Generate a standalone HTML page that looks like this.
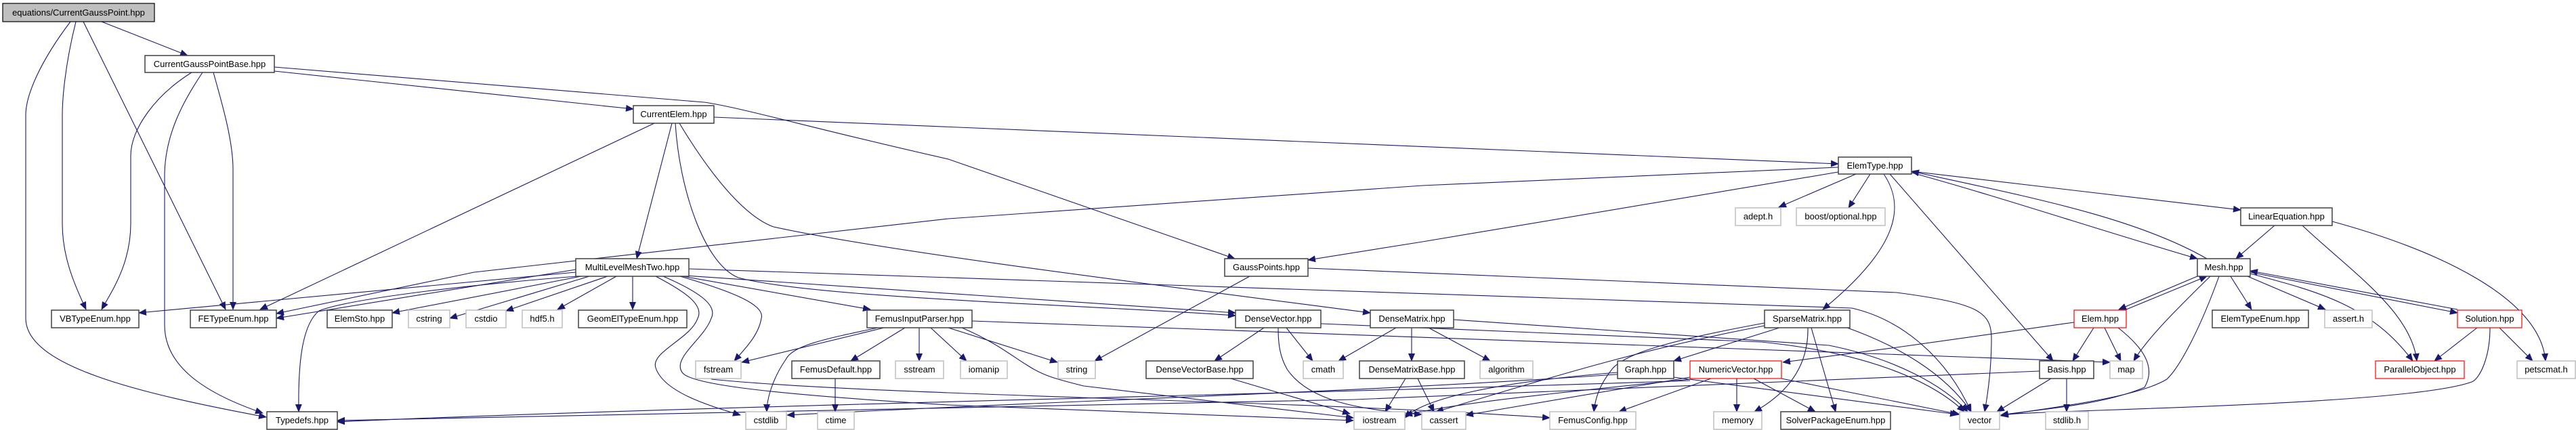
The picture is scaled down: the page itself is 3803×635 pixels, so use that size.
<!DOCTYPE html>
<html><head><meta charset="utf-8"><style>
html,body{margin:0;padding:0;background:#fff}
svg{display:block}
text{font-family:"Liberation Sans",Arial,sans-serif;font-size:13px;fill:#000}
.n{fill:#fff;stroke:#404040;stroke-width:1.5}
.g{fill:#fff;stroke:#bfbfbf;stroke-width:1.5}
.r{fill:#fff;stroke:#ff0000;stroke-width:1.2}
.e{fill:none;stroke:#191970;stroke-width:1.1}
</style></head><body>
<svg width="3803" height="635" viewBox="0 0 3803 635" xmlns="http://www.w3.org/2000/svg">
<defs><marker id="a" markerWidth="12" markerHeight="10" refX="11" refY="5" orient="auto" markerUnits="userSpaceOnUse"><path d="M0,0 L12,5 L0,10 Z" fill="#191970"/></marker></defs>
<g class="e" marker-end="url(#a)">
<path d="M104,32 C60,90 38,140 38,170 L38,470 C38,540 200,580 393,616"/>
<path d="M112,32 C95,100 92,150 92,170 L92,330 C92,380 110,420 127,457"/>
<path d="M123,32 L333,457"/>
<path d="M150,32 L277,82"/>
<path d="M283,107 C230,140 193,190 193,230 L193,330 C193,390 165,430 150,457"/>
<path d="M299,107 C270,150 243,200 243,260 L243,480 C243,540 300,580 388,610"/>
<path d="M315,107 C330,160 344,210 344,250 L344,457"/>
<path d="M405,105 L935,161"/>
<path d="M405,99 L1040,151 C1100,160 1200,190 1400,235 L1823,382"/>
<path d="M1054,173 L2714,242"/>
<path d="M992,182 L940,382"/>
<path d="M966,182 L384,457"/>
<path d="M997,182 C1003,280 1040,390 1090,410 C1200,440 1600,450 1824,466"/>
<path d="M1003,182 C1050,260 1100,320 1142,335 C1300,370 1700,420 2023,462"/>
<path d="M2714,247 L2100,274 L1400,323 L700,402 L408,463"/>
<path d="M2714,254 L2100,357 L1931,384"/>
<path d="M2740,257 L2626,306"/>
<path d="M2761,257 L2729,307"/>
<path d="M2781,257 C2810,300 2810,360 2691,457"/>
<path d="M2790,257 L3031,533"/>
<path d="M2822,253 L3308,310"/>
<path d="M2822,255 C2950,290 3100,340 3244,382"/>
<path d="M3258,382 C3150,320 2990,290 2822,253"/>
<path d="M3358,333 L3301,382"/>
<path d="M3399,333 C3470,400 3560,460 3568,533"/>
<path d="M3443,327 C3600,370 3750,440 3758,533"/>
<path d="M3244,408 L3128,457"/>
<path d="M3139,457 L3258,408"/>
<path d="M3293,408 L3324,457"/>
<path d="M3318,408 L3433,457"/>
<path d="M3322,402 L3628,462"/>
<path d="M3628,457 L3322,400"/>
<path d="M3322,404 C3420,430 3500,450 3562,533"/>
<path d="M3263,408 C3210,460 3170,500 3150,533"/>
<path d="M3276,408 C3250,480 3220,540 3199,560 C3150,590 3000,605 2954,614"/>
<path d="M3091,484 L3060,533"/>
<path d="M3107,484 L3131,533"/>
<path d="M3127,484 C3160,510 3185,540 3166,572 C3100,600 3000,605 2954,613"/>
<path d="M3062,476 L2800,513 L2632,535"/>
<path d="M3657,484 L3594,533"/>
<path d="M3690,484 L3739,533"/>
<path d="M3676,484 C3676,530 3660,560 3649,564 C3550,600 3000,605 2954,613"/>
<path d="M3028,559 L2948,608"/>
<path d="M3051,559 L3051,608"/>
<path d="M3011,548 L2000,590 L498,621"/>
<path d="M1931,396 L2800,432 C2920,448 2940,460 2940,500 C2940,540 2935,580 2930,608"/>
<path d="M1845,408 L1616,533"/>
<path d="M1017,397 L2734,455 C2800,470 2870,520 2910,608"/>
<path d="M850,402 L205,462"/>
<path d="M850,398 L408,470"/>
<path d="M858,408 L579,462"/>
<path d="M870,408 L664,470"/>
<path d="M897,408 L747,459"/>
<path d="M910,408 L823,457"/>
<path d="M934,408 L934,457"/>
<path d="M852,408 C700,420 520,440 471,459 C445,480 440,540 441,608"/>
<path d="M968,408 C1010,430 1040,450 1030,470 C1020,500 960,520 968,543 C980,580 1050,600 1093,613"/>
<path d="M979,408 C1030,430 1060,450 1050,470 C1040,500 990,530 1008,551 C1020,565 1100,580 1400,598 L1998,621"/>
<path d="M1004,408 C1080,430 1130,450 1124,470 C1120,495 1100,515 1084,533"/>
<path d="M1008,408 L1285,457"/>
<path d="M1012,407 L1824,462"/>
<path d="M1305,484 L1095,535"/>
<path d="M1296,484 C1220,500 1170,510 1160,531 C1140,560 1132,590 1132,608"/>
<path d="M1336,484 L1256,533"/>
<path d="M1357,484 L1357,533"/>
<path d="M1374,484 L1427,533"/>
<path d="M1400,484 L1561,535"/>
<path d="M1420,484 C1470,505 1500,530 1516,539 C1540,555 1560,560 1600,570 L1998,617"/>
<path d="M1435,474 L3115,535"/>
<path d="M1233,559 L1233,608"/>
<path d="M2400,552 C2000,580 1600,590 1162,613"/>
<path d="M1866,484 L1793,533"/>
<path d="M1899,484 L1938,533"/>
<path d="M1887,484 C1887,510 1890,527 1900,545 C1930,590 2000,605 2099,612"/>
<path d="M1950,478 L2600,505 C2750,520 2850,560 2900,608"/>
<path d="M1817,559 L1993,611"/>
<path d="M2061,484 L1976,533"/>
<path d="M2084,484 L2084,533"/>
<path d="M2109,484 L2200,533"/>
<path d="M2146,472 L2700,510 C2800,530 2870,570 2905,608"/>
<path d="M2075,559 L2045,608"/>
<path d="M2093,559 L2117,608"/>
<path d="M2627,484 L2471,533"/>
<path d="M2605,477 C2480,500 2400,520 2380,545 C2360,570 2355,590 2353,608"/>
<path d="M2605,481 C2400,520 2250,570 2120,608"/>
<path d="M2669,484 C2670,540 2640,580 2590,608"/>
<path d="M2674,484 L2710,608"/>
<path d="M2727,484 C2800,510 2870,550 2910,608"/>
<path d="M2471,557 L2890,612"/>
<path d="M2388,550 C2200,565 2100,590 2074,617"/>
<path d="M2564,559 L2564,608"/>
<path d="M2589,559 L2680,608"/>
<path d="M2526,559 L2390,608"/>
<path d="M2495,557 L2164,613"/>
<path d="M2630,559 L2893,612"/>
<path d="M2495,560 C2300,580 2150,595 2074,613"/>
<path d="M2495,562 C2000,580 1000,600 498,623"/>
<path d="M1050,560 C1300,585 1900,590 2288,617"/>
</g>
<g>
<rect x="4" y="5" width="224" height="27" fill="#bfbfbf" stroke="#000" stroke-width="1.2"/><text x="116" y="23" text-anchor="middle">equations/CurrentGaussPoint.hpp</text>
<rect class="n" x="214" y="82" width="191" height="25"/><text x="309.5" y="99" text-anchor="middle">CurrentGaussPointBase.hpp</text>
<rect class="n" x="935" y="156" width="119" height="26"/><text x="994.5" y="173" text-anchor="middle">CurrentElem.hpp</text>
<rect class="n" x="2714" y="232" width="108" height="25"/><text x="2768" y="249" text-anchor="middle">ElemType.hpp</text>
<rect class="n" x="3308" y="307" width="135" height="26"/><text x="3375.5" y="324" text-anchor="middle">LinearEquation.hpp</text>
<rect class="g" x="2562" y="307" width="67" height="26"/><text x="2595.5" y="324" text-anchor="middle">adept.h</text>
<rect class="g" x="2652" y="307" width="131" height="26"/><text x="2717.5" y="324" text-anchor="middle">boost/optional.hpp</text>
<rect class="n" x="850" y="382" width="167" height="26"/><text x="933.5" y="399" text-anchor="middle">MultiLevelMeshTwo.hpp</text>
<rect class="n" x="1808" y="382" width="123" height="26"/><text x="1869.5" y="399" text-anchor="middle">GaussPoints.hpp</text>
<rect class="n" x="3244" y="382" width="78" height="26"/><text x="3283" y="399" text-anchor="middle">Mesh.hpp</text>
<rect class="n" x="76" y="458" width="129" height="26"/><text x="140.5" y="475" text-anchor="middle">VBTypeEnum.hpp</text>
<rect class="n" x="281" y="458" width="127" height="26"/><text x="344.5" y="475" text-anchor="middle">FETypeEnum.hpp</text>
<rect class="n" x="483" y="458" width="96" height="26"/><text x="531" y="475" text-anchor="middle">ElemSto.hpp</text>
<rect class="g" x="603" y="458" width="61" height="26"/><text x="633.5" y="475" text-anchor="middle">cstring</text>
<rect class="g" x="688" y="458" width="59" height="26"/><text x="717.5" y="475" text-anchor="middle">cstdio</text>
<rect class="g" x="771" y="458" width="59" height="26"/><text x="800.5" y="475" text-anchor="middle">hdf5.h</text>
<rect class="n" x="854" y="458" width="160" height="26"/><text x="934" y="475" text-anchor="middle">GeomElTypeEnum.hpp</text>
<rect class="n" x="1280" y="458" width="155" height="26"/><text x="1357.5" y="475" text-anchor="middle">FemusInputParser.hpp</text>
<rect class="n" x="1824" y="458" width="126" height="26"/><text x="1887" y="475" text-anchor="middle">DenseVector.hpp</text>
<rect class="n" x="2023" y="458" width="123" height="26"/><text x="2084.5" y="475" text-anchor="middle">DenseMatrix.hpp</text>
<rect class="n" x="2605" y="458" width="126" height="26"/><text x="2668" y="475" text-anchor="middle">SparseMatrix.hpp</text>
<rect class="r" x="3062" y="458" width="77" height="26"/><text x="3100.5" y="475" text-anchor="middle">Elem.hpp</text>
<rect class="n" x="3266" y="458" width="142" height="26"/><text x="3337" y="475" text-anchor="middle">ElemTypeEnum.hpp</text>
<rect class="g" x="3432" y="458" width="70" height="26"/><text x="3467" y="475" text-anchor="middle">assert.h</text>
<rect class="r" x="3628" y="458" width="95" height="26"/><text x="3675.5" y="475" text-anchor="middle">Solution.hpp</text>
<rect class="g" x="1027" y="533" width="67" height="26"/><text x="1060.5" y="550" text-anchor="middle">fstream</text>
<rect class="n" x="1169" y="533" width="130" height="26"/><text x="1234" y="550" text-anchor="middle">FemusDefault.hpp</text>
<rect class="g" x="1322" y="533" width="71" height="26"/><text x="1357.5" y="550" text-anchor="middle">sstream</text>
<rect class="g" x="1418" y="533" width="69" height="26"/><text x="1452.5" y="550" text-anchor="middle">iomanip</text>
<rect class="g" x="1562" y="533" width="55" height="26"/><text x="1589.5" y="550" text-anchor="middle">string</text>
<rect class="n" x="1692" y="533" width="158" height="26"/><text x="1771" y="550" text-anchor="middle">DenseVectorBase.hpp</text>
<rect class="g" x="1924" y="533" width="59" height="26"/><text x="1953.5" y="550" text-anchor="middle">cmath</text>
<rect class="n" x="2007" y="533" width="155" height="26"/><text x="2084.5" y="550" text-anchor="middle">DenseMatrixBase.hpp</text>
<rect class="g" x="2185" y="533" width="78" height="26"/><text x="2224" y="550" text-anchor="middle">algorithm</text>
<rect class="n" x="2388" y="533" width="83" height="26"/><text x="2429.5" y="550" text-anchor="middle">Graph.hpp</text>
<rect class="r" x="2495" y="533" width="135" height="26"/><text x="2562.5" y="550" text-anchor="middle">NumericVector.hpp</text>
<rect class="n" x="3011" y="533" width="80" height="26"/><text x="3051" y="550" text-anchor="middle">Basis.hpp</text>
<rect class="g" x="3115" y="533" width="48" height="26"/><text x="3139" y="550" text-anchor="middle">map</text>
<rect class="r" x="3507" y="533" width="131" height="26"/><text x="3572.5" y="550" text-anchor="middle">ParallelObject.hpp</text>
<rect class="g" x="3716" y="533" width="86" height="26"/><text x="3759" y="550" text-anchor="middle">petscmat.h</text>
<rect class="n" x="394" y="608" width="104" height="26"/><text x="446" y="625" text-anchor="middle">Typedefs.hpp</text>
<rect class="g" x="1101" y="608" width="60" height="26"/><text x="1131" y="625" text-anchor="middle">cstdlib</text>
<rect class="g" x="1207" y="608" width="54" height="26"/><text x="1234" y="625" text-anchor="middle">ctime</text>
<rect class="g" x="1999" y="608" width="75" height="26"/><text x="2036.5" y="625" text-anchor="middle">iostream</text>
<rect class="g" x="2099" y="608" width="65" height="26"/><text x="2131.5" y="625" text-anchor="middle">cassert</text>
<rect class="g" x="2288" y="608" width="127" height="26"/><text x="2351.5" y="625" text-anchor="middle">FemusConfig.hpp</text>
<rect class="g" x="2530" y="608" width="71" height="26"/><text x="2565.5" y="625" text-anchor="middle">memory</text>
<rect class="n" x="2629" y="608" width="162" height="26"/><text x="2710" y="625" text-anchor="middle">SolverPackageEnum.hpp</text>
<rect class="g" x="2893" y="608" width="59" height="26"/><text x="2922.5" y="625" text-anchor="middle">vector</text>
<rect class="g" x="3020" y="608" width="63" height="26"/><text x="3051.5" y="625" text-anchor="middle">stdlib.h</text>
</g>
</svg>
</body></html>
